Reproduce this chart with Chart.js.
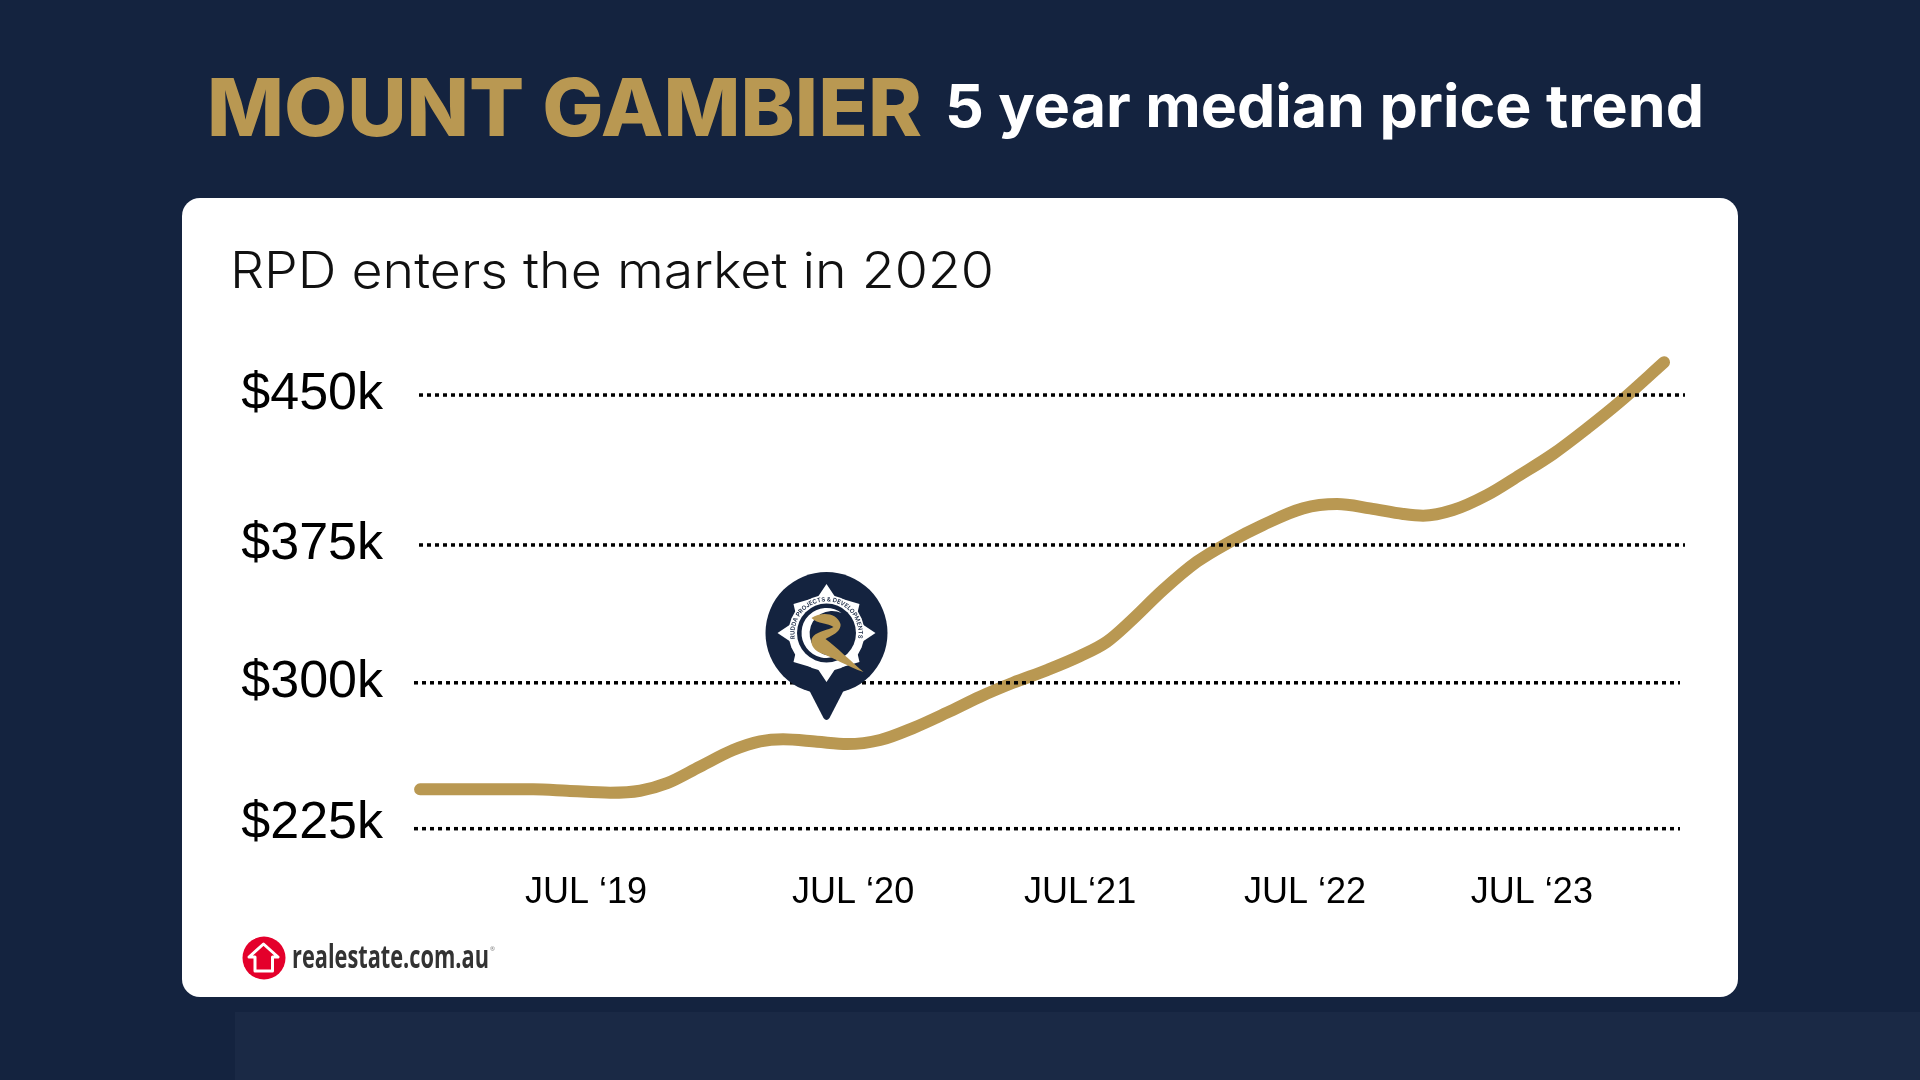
<!DOCTYPE html>
<html>
<head>
<meta charset="utf-8">
<title>Mount Gambier 5 year median price trend</title>
<script src="https://cdn.jsdelivr.net/npm/chart.js@4"></script>
<style>
  html, body { margin: 0; padding: 0; width: 1920px; height: 1080px; overflow: hidden; background: #14233f; }
  .band { position: absolute; left: 235px; top: 1012px; width: 1685px; height: 68px; background: #1a2945; }
  .card { position: absolute; left: 182px; top: 198px; width: 1556px; height: 799px; background: #fff; border-radius: 18px; }
  canvas, svg { position: absolute; left: 0; top: 0; }
</style>
</head>
<body>
<div class="band"></div>
<div class="card"></div>
<canvas id="chart" width="1920" height="1080"></canvas>
<svg width="1920" height="1080" viewBox="0 0 1920 1080">
  <text x="207" y="136" font-family="Inter" font-weight="800" font-size="80" fill="#b99852" textLength="715" lengthAdjust="spacingAndGlyphs">MOUNT GAMBIER</text>
  <text x="945" y="127" font-family="Inter" font-weight="700" font-size="59" fill="#ffffff" textLength="759" lengthAdjust="spacingAndGlyphs">5 year median price trend</text>
  <text x="230" y="288" font-family="Inter" font-weight="300" font-size="50" fill="#111111" textLength="764" lengthAdjust="spacingAndGlyphs">RPD enters the market in 2020</text>

  <!-- RPD map pin -->
  <g transform="translate(826.5 633)">
    <circle r="61" fill="#14233f"/>
    <path d="M-20 52 L-3 85 Q0 89 3 85 L20 52 Z" fill="#14233f"/>
    <circle r="38" fill="#ffffff"/>
    <path d="M0 -49 L10 -34 L-10 -34 Z M49 0 L34 10 L34 -10 Z M0 49 L10 34 L-10 34 Z M-49 0 L-34 10 L-34 -10 Z" fill="#ffffff"/>
    <path d="M-33 -29 L-16 -34 L-30 -16 Z M33 -29 L16 -34 L30 -16 Z M33 29 L16 34 L30 16 Z M-33 29 L-16 34 L-30 16 Z" fill="#ffffff"/>
    <circle r="29.5" fill="#14233f"/>
    <path d="M15 -20 A25 25 0 1 0 12 22 A22.5 22.5 0 1 1 15 -20 Z" fill="#ffffff"/>
    <path d="M-15 -15 C-6 -21 10 -21 14 -9 C15 -1 4 3 -1 6 C10 14 24 28 37 39 C22 34 6 24 -6 20 C-14 17 -18 8 -13 3 C-8 -2 2 -3 7 -6 C2 -10 -9 -9 -15 -15 Z" fill="#b99852"/>
    <path id="ringText" d="M-31.5 6 A32 32 0 1 1 31.5 6" fill="none"/>
    <text font-family="Inter" font-weight="600" font-size="6" fill="#14233f"><textPath href="#ringText">RUDDA PROJECTS &amp; DEVELOPMENTS</textPath></text>
  </g>

  <!-- realestate.com.au logo -->
  <circle cx="264" cy="958" r="21.5" fill="#e4002b"/>
  <path d="M263.5 944 L278 957 L272.5 957 L272.5 971 L255 971 L255 957 L249 957 Z" fill="#e4002b" stroke="#ffffff" stroke-width="3" stroke-linejoin="round"/>
  <text x="292" y="968" font-family="Open Sans" font-weight="700" font-size="33" fill="#333333" textLength="197" lengthAdjust="spacingAndGlyphs">realestate.com.au</text>
  <text x="490" y="951" font-family="Open Sans" font-size="6" fill="#777777">®</text>
</svg>

<script>
// months counted from JUL '19, prices in $k
const sampleMonths = [-7.37, -2.35, -0.84, 1.07, 2.4, 3.6, 5.06, 6.53, 7.73, 8.75, 10.26, 11.59, 13.06, 14.52, 16.03, 17.5, 18.96, 20.47, 21.94, 23.13, 24.16, 25.62, 27.13, 28.6, 30.06, 31.84, 33.35, 34.81, 36.28, 37.17, 38.5, 40.01, 41.47, 42.94, 44.45, 45.91, 47.87];
const medianPrices = [245.4, 245.4, 244.7, 243.7, 244.7, 248.6, 257.2, 265.8, 270.3, 271.4, 270.1, 268.9, 271, 277.2, 285.2, 293.5, 300.7, 307.3, 314.6, 322, 332.4, 348.8, 363.5, 373.9, 382.6, 391.2, 393.4, 391.2, 388.3, 387.4, 390.3, 398.1, 408.5, 419.4, 432.7, 446.5, 467];

// the reference's axis is not quite even, so the gridlines sit where its gridlines sit
const gridValues = [225, 300.7, 372.2, 450];
// $225k is printed a little higher off its line than the others
const yLabelValues = [227.5, 300.7, 372.2, 450];
const yTickLabels = ["$225k", "$300k", "$375k", "$450k"];
const xTickMonths = [0, 11.86, 21.94, 31.93, 42];
const xTickLabels = ["JUL ‘19", "JUL ‘20", "JUL‘21", "JUL ‘22", "JUL ‘23"];

const GOLD = "#b99852";

// dotted lines go over the curve; top two sit a little further right
const dottedGrid = {
  id: "dottedGrid",
  afterDatasetsDraw(chart) {
    const { ctx, chartArea, scales } = chart;
    ctx.save();
    ctx.strokeStyle = "#000";
    ctx.lineWidth = 3.5;
    ctx.setLineDash([4, 4]);
    gridValues.forEach((value) => {
      const y = scales.y.getPixelForValue(value);
      const shift = value > 350 ? 5 : 0;
      ctx.beginPath();
      ctx.moveTo(chartArea.left + shift, y);
      ctx.lineTo(chartArea.right - 5 + shift, y);
      ctx.stroke();
    });
    ctx.restore();
  },
};

new Chart(document.getElementById("chart"), {
  type: "line",
  data: {
    datasets: [
      {
        label: "Median price",
        data: sampleMonths.map((month, i) => ({ x: month, y: medianPrices[i] })),
        borderColor: GOLD,
        borderWidth: 12,
        borderCapStyle: "round",
        borderJoinStyle: "round",
        cubicInterpolationMode: "monotone",
        pointRadius: 0,
        fill: false,
      },
    ],
  },
  options: {
    responsive: false,
    animation: false,
    layout: { padding: { top: 337.2, right: 235, bottom: 0, left: 0 } },
    plugins: {
      legend: { display: false },
      title: { display: false },
      tooltip: { enabled: false },
    },
    scales: {
      x: {
        type: "linear",
        min: -7.64,
        max: 48.8,
        grid: { display: false, drawTicks: false },
        border: { display: false },
        afterBuildTicks: (scale) => {
          scale.ticks = xTickMonths.map((value) => ({ value }));
        },
        afterFit: (scale) => {
          scale.height = 222.4;
        },
        ticks: {
          autoSkip: false,
          maxRotation: 0,
          padding: 14,
          color: "#000",
          font: { family: "Liberation Sans", size: 36 },
          callback: (value, index) => xTickLabels[index],
        },
      },
      y: {
        min: 210,
        max: 480,
        grid: { display: false, drawTicks: false },
        border: { display: false },
        afterBuildTicks: (scale) => {
          scale.ticks = yLabelValues.map((value) => ({ value }));
        },
        afterFit: (scale) => {
          scale.width = 414;
        },
        ticks: {
          autoSkip: false,
          padding: 31,
          color: "#000",
          font: { family: "Liberation Sans", size: 52 },
          callback: (value, index) => yTickLabels[index],
        },
      },
    },
  },
  plugins: [dottedGrid],
});
</script>
</body>
</html>
